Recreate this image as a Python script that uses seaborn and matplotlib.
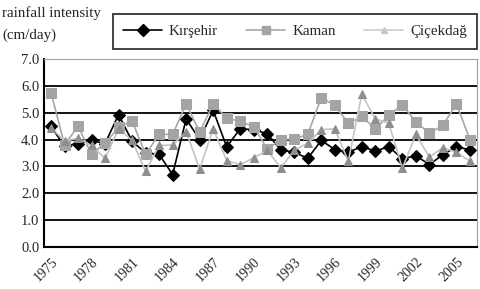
"""
Annual rainfall intensity at three stations (Kırşehir, Kaman, Çiçekdağ), 1975-2006.
"""
import numpy as np
import pandas as pd
import matplotlib
matplotlib.use("Agg")
import matplotlib.pyplot as plt
from matplotlib.lines import Line2D
from matplotlib.ticker import MultipleLocator, FixedLocator
import seaborn as sns

# ── data ─────────────────────────────────────────────────────────────────────
years = list(range(1975, 2007))
kirsehir = [4.50, 3.75, 3.85, 3.97, 3.85, 4.93, 3.94, 3.50, 3.45, 2.70,
            4.77, 4.00, 5.09, 3.73, 4.40, 4.37, 4.22, 3.62, 3.53, 3.30,
            3.97, 3.63, 3.53, 3.74, 3.57, 3.74, 3.28, 3.40, 3.07, 3.44,
            3.73, 3.62]
kaman = [5.75, 3.80, 4.50, 3.45, 3.87, 4.45, 4.70, 3.45, 4.20, 4.19,
         5.33, 4.28, 5.33, 4.80, 4.68, 4.48, 3.65, 4.00, 4.03, 4.19,
         5.56, 5.27, 4.61, 4.86, 4.40, 4.90, 5.30, 4.65, 4.24, 4.53,
         5.33, 4.00]
cicekdag = [4.44, 3.95, 4.05, 3.78, 3.30, 4.40, 3.97, 2.82, 3.78, 3.80,
            4.30, 2.90, 4.40, 3.22, 3.07, 3.32, 3.60, 2.95, 3.60, 3.87,
            4.37, 4.40, 3.20, 5.68, 4.77, 4.61, 2.93, 4.19, 3.35, 3.70,
            3.53, 3.20]
stations = ["Kırşehir", "Kaman", "Çiçekdağ"]
label_years = list(range(1975, 2007, 3))

df = pd.DataFrame({"year": years * 3,
                   "rain": kirsehir + kaman + cicekdag,
                   "station": np.repeat(stations, len(years))})

# ── styling ──────────────────────────────────────────────────────────────────
sns.set_style("white")
plt.rcParams["font.family"] = ["Liberation Serif", "DejaVu Serif"]

style = {
    "Kırşehir": dict(line="black", mk="black", marker="D", ms=6.5),
    "Kaman":    dict(line="#a8a8a8", mk="#a4a4a4", marker="s", ms=6.5),
    "Çiçekdağ": dict(line="#c4c4c4", mk="#8e8e8e", marker="^", ms=6),
}

fig = plt.figure(figsize=(4.81, 2.89), dpi=100)
ax = fig.add_axes([0.092, 0.145, 0.899, 0.651])

for st in stations:
    s = style[st]
    sns.lineplot(data=df[df["station"] == st], x="year", y="rain",
                 color=s["line"], lw=1.2, marker=s["marker"], ms=s["ms"],
                 markerfacecolor=s["mk"], markeredgecolor=s["mk"],
                 ax=ax, legend=False)

ax.set_xlim(1974.5, 2006.5)
ax.set_ylim(0, 7)
ax.yaxis.set_major_locator(MultipleLocator(1))
ax.set_yticklabels([f"{v:.1f}" for v in ax.get_yticks()], fontsize=10.5)
for v in range(1, 7):
    ax.axhline(v, color="black", lw=1.3, zorder=0)

ax.xaxis.set_major_locator(FixedLocator(label_years))
ax.set_xticklabels([str(y) for y in label_years], rotation=45, ha="right",
                   rotation_mode="anchor", fontsize=10)
ax.xaxis.set_minor_locator(FixedLocator(np.arange(1974.5, 2007, 1)))
ax.tick_params(axis="x", which="major", length=0, pad=6)
ax.tick_params(axis="x", which="minor", length=4, width=1.3,
               direction="out", color="black")
ax.tick_params(axis="y", length=5, width=1.3, direction="inout",
               color="black", pad=1)
ax.set_xlabel("")
ax.set_ylabel("")

for side in ["top", "right"]:
    ax.spines[side].set_color("#a0a0a0")
    ax.spines[side].set_linewidth(0.8)
for side in ["left", "bottom"]:
    ax.spines[side].set_color("black")
    ax.spines[side].set_linewidth(1.5)

fig.text(0.004, 0.978, "rainfall intensity\n(cm/day)", ha="left", va="top",
         fontsize=10.8, linespacing=1.8)

handles = [
    Line2D([], [], color="black", lw=1.2, marker="D", ms=6),
    Line2D([], [], color="#a8a8a8", lw=1.2, marker="s", ms=6,
           markerfacecolor="#a4a4a4", markeredgecolor="#a4a4a4"),
    Line2D([], [], color="#cccccc", lw=1.2, marker="^", ms=5,
           markerfacecolor="#c8c8c8", markeredgecolor="#c8c8c8"),
]
leg = fig.legend(handles, stations, loc="center", ncol=3,
                 bbox_to_anchor=(0.613, 0.891), fontsize=10.8, frameon=True,
                 fancybox=False, edgecolor="black", handlelength=2.6,
                 columnspacing=1.9, borderpad=0.7, handletextpad=0.45)
leg.get_frame().set_linewidth(1.3)

fig.savefig("out.png", dpi=100)
plt.close()
